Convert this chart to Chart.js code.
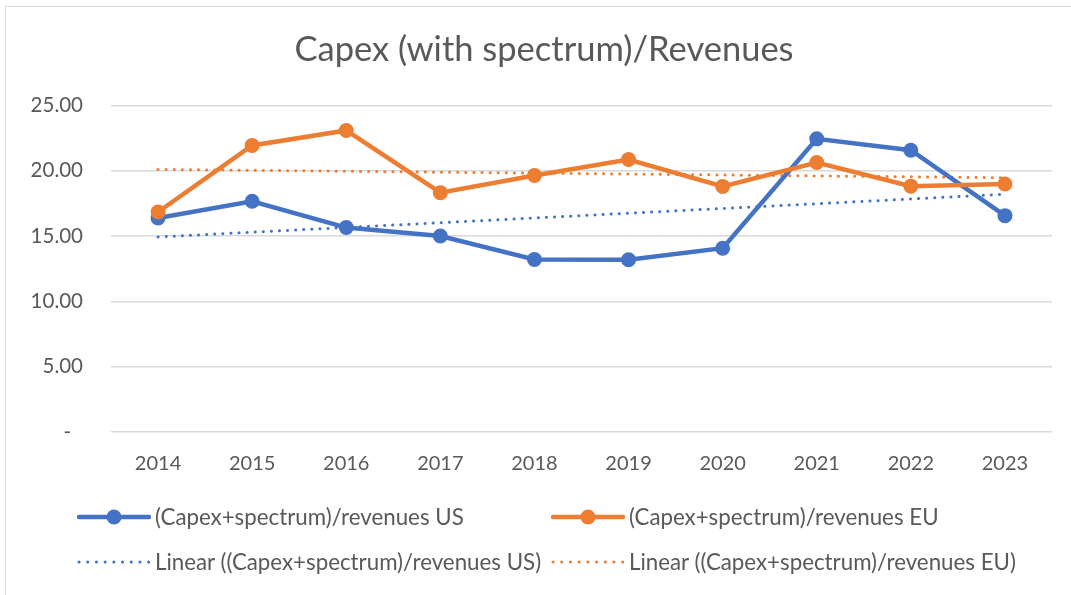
<!DOCTYPE html>
<html>
<head>
<meta charset="utf-8">
<script src="https://cdn.jsdelivr.net/npm/chart.js@4.4.1/dist/chart.umd.min.js"></script>
<style>
  html, body { margin: 0; padding: 0; background: #fff; overflow: hidden; }
  #wrap { position: relative; width: 1071px; height: 595px; }
  #frame { position: absolute; left: 5px; top: 6px; width: 1200px; height: 700px; border-left: 1.5px solid #d9d9d9; border-top: 1.5px solid #d9d9d9; }
  #c { position: absolute; left: 0; top: 0; }
  .lg { position: absolute; font-family: Lato, sans-serif; font-size: 22.3px; color: #595959; white-space: nowrap; line-height: 24px; }
  .lg canvas { position: absolute; left: 0; top: 0; }
</style>
</head>
<body>
<div id="wrap">
  <div id="frame"></div>
  <canvas id="c" width="1071" height="595"></canvas>
  <div id="legend"></div>
</div>
<script>
const categories = ['2014','2015','2016','2017','2018','2019','2020','2021','2022','2023'];
const usValues = [16.38, 17.66, 15.65, 15.00, 13.20, 13.18, 14.07, 22.44, 21.57, 16.56];
const euValues = [16.84, 21.93, 23.08, 18.32, 19.64, 20.86, 18.80, 20.63, 18.82, 18.98];
const usTrend = [14.93, null, null, null, null, null, null, null, null, 18.20];
const euTrend = [20.10, null, null, null, null, null, null, null, null, 19.46];
const yTicks = [0, 5, 10, 15, 20, 25];
const titleText = 'Capex (with spectrum)/Revenues';
const labels = ['(Capex+spectrum)/revenues US', '(Capex+spectrum)/revenues EU',
                'Linear ((Capex+spectrum)/revenues US)', 'Linear ((Capex+spectrum)/revenues EU)'];

const BLUE = '#4472C4', ORANGE = '#ED7D31', TXT = '#595959', GRID = '#d9d9d9';

const chart = new Chart(document.getElementById('c'), {
  type: 'line',
  data: {
    labels: categories,
    datasets: [
      { label: labels[0], data: usValues, borderColor: BLUE, backgroundColor: BLUE,
        borderWidth: 4.5, pointRadius: 7.5, pointHoverRadius: 7.5, pointBorderWidth: 0, tension: 0, order: 1 },
      { label: labels[1], data: euValues, borderColor: ORANGE, backgroundColor: ORANGE,
        borderWidth: 4.5, pointRadius: 7.5, pointHoverRadius: 7.5, pointBorderWidth: 0, tension: 0, order: 0 },
      { label: labels[2], data: usTrend, borderColor: BLUE, borderWidth: 3, borderDash: [0.1, 8],
        borderCapStyle: 'round', pointRadius: 0, spanGaps: true, order: 3, dotted: true },
      { label: labels[3], data: euTrend, borderColor: ORANGE, borderWidth: 3, borderDash: [0.1, 8],
        borderCapStyle: 'round', pointRadius: 0, spanGaps: true, order: 2, dotted: true }
    ]
  },
  options: {
    responsive: false,
    animation: false,
    events: [],
    layout: { padding: { left: 17, right: 0, top: 0, bottom: 100 } },
    plugins: {
      legend: { display: false },
      tooltip: { enabled: false },
      title: {
        display: true, text: titleText, color: TXT,
        font: { family: 'Lato', size: 34.5, weight: 'normal' },
        padding: { top: 29, bottom: 35 }
      }
    },
    scales: {
      x: {
        offset: true,
        grid: { display: false },
        border: { display: false },
        ticks: { color: TXT, font: { family: 'Lato', size: 20 }, padding: 12, maxRotation: 0 },
        afterFit: s => { s.height = 63; }
      },
      y: {
        min: 0, max: 25,
        afterBuildTicks: s => { s.ticks = yTicks.map(v => ({ value: v })); },
        grid: { color: GRID, lineWidth: 1.5, drawTicks: false },
        border: { display: false },
        ticks: { color: TXT, font: { family: 'Lato', size: 20.5 }, padding: 28,
                 callback: v => v === 0 ? '-\u2007' : Number(v).toFixed(2) },
        afterFit: s => { s.width = 94; }
      },
      yRight: {
        position: 'right', min: 0, max: 25,
        grid: { display: false },
        border: { display: false },
        ticks: { display: false },
        afterFit: s => { s.width = 19; }
      }
    }
  }
});

// Legend built from the chart's datasets, laid out in two columns like the original
const legendPos = [[77, 517], [551, 517], [77, 562], [551, 562]];
const lg = document.getElementById('legend');
chart.data.datasets.forEach((ds, i) => {
  const [x, y] = legendPos[i];
  const item = document.createElement('div');
  item.className = 'lg';
  item.style.left = x + 'px';
  item.style.top = (y - 12) + 'px';
  item.style.paddingLeft = '78px';
  const cv = document.createElement('canvas');
  cv.width = 74; cv.height = 24;
  const ctx = cv.getContext('2d');
  ctx.strokeStyle = ds.borderColor;
  ctx.lineCap = 'round';
  if (ds.dotted) {
    ctx.lineWidth = 3;
    ctx.setLineDash([0.1, 8.6]);
    ctx.beginPath(); ctx.moveTo(2, 12); ctx.lineTo(72, 12); ctx.stroke();
  } else {
    ctx.lineWidth = 4.5;
    ctx.beginPath(); ctx.moveTo(2, 12); ctx.lineTo(72, 12); ctx.stroke();
    ctx.fillStyle = ds.borderColor;
    ctx.beginPath(); ctx.arc(37, 12, 7.5, 0, Math.PI * 2); ctx.fill();
  }
  item.appendChild(cv);
  item.appendChild(document.createTextNode(ds.label));
  lg.appendChild(item);
});
</script>
</body>
</html>
